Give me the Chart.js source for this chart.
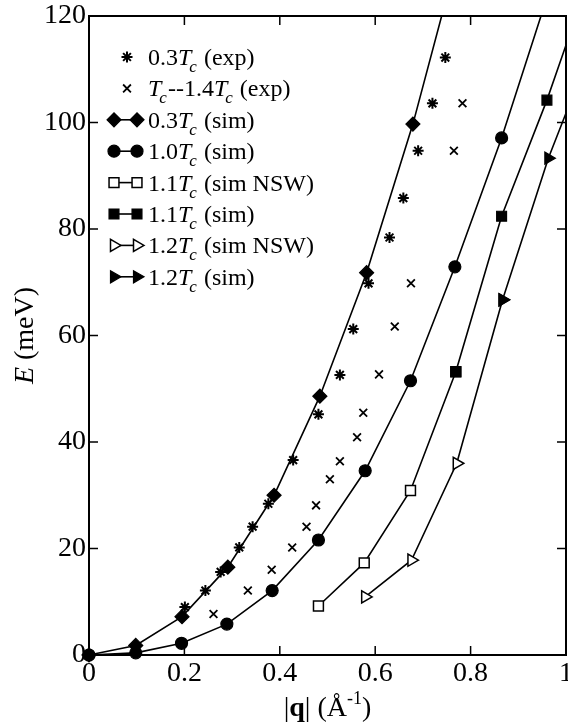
<!DOCTYPE html>
<html>
<head>
<meta charset="utf-8">
<script src="https://cdn.jsdelivr.net/npm/chart.js@4/dist/chart.umd.min.js"></script>
<style>
  html, body { margin: 0; padding: 0; background: #fff; overflow: hidden; }
  /* a little wider than the window, so the last x label runs off the edge as in the original */
  #wrap { width: 575px; height: 726px; position: relative; }
</style>
</head>
<body>
<div id="wrap"><canvas id="chart"></canvas></div>
<script>
// legend labels, "T_c" = italic T with subscript c
const seriesLabels = [
  '0.3T_c (exp)',
  'T_c--1.4T_c (exp)',
  '0.3T_c (sim)',
  '1.0T_c (sim)',
  '1.1T_c (sim NSW)',
  '1.1T_c (sim)',
  '1.2T_c (sim NSW)',
  '1.2T_c (sim)'
];

// 0.3Tc experiment (asterisks)
const expLowQ = [0.201, 0.244, 0.276, 0.315, 0.343, 0.376, 0.428, 0.481, 0.526, 0.554, 0.586, 0.630, 0.659, 0.690, 0.720, 0.747];
const expLowE = [9.0, 12.1, 15.6, 20.2, 24.1, 28.4, 36.6, 45.2, 52.6, 61.2, 69.8, 78.4, 85.8, 94.7, 103.6, 112.2];

// Tc--1.4Tc experiment (crosses)
const expHighQ = [0.261, 0.333, 0.383, 0.426, 0.456, 0.476, 0.505, 0.526, 0.562, 0.575, 0.608, 0.641, 0.675, 0.765, 0.783];
const expHighE = [7.7, 12.1, 16.0, 20.2, 24.1, 28.1, 33.0, 36.4, 40.9, 45.5, 52.7, 61.7, 69.8, 94.7, 103.6];

// simulations
const sim03Q = [0, 0.098, 0.195, 0.291, 0.388, 0.484, 0.582, 0.679, 0.775];
const sim03E = [0, 1.8, 7.2, 16.5, 30.0, 48.6, 71.8, 99.7, 132];

const sim10Q = [0, 0.098, 0.194, 0.289, 0.384, 0.481, 0.579, 0.674, 0.767, 0.865, 0.962];
const sim10E = [0, 0.4, 2.2, 5.8, 12.1, 21.6, 34.6, 51.5, 72.9, 97.1, 124];

const sim11nswQ = [0.481, 0.577, 0.674, 0.769];
const sim11nswE = [9.2, 17.3, 30.9, 53.2];

const sim11Q = [0.769, 0.865, 0.960, 1.056];
const sim11E = [53.2, 82.4, 104.2, 129];

const sim12nswQ = [0.579, 0.676, 0.771, 0.867];
const sim12nswE = [10.9, 17.8, 36.0, 66.7];

const sim12Q = [0.867, 0.963, 1.06];
const sim12E = [66.7, 93.3, 115.5];

const xTicks = [0, 0.2, 0.4, 0.6, 0.8, 1];
const yTicks = [0, 20, 40, 60, 80, 100, 120];

const FONT = "'Liberation Serif', 'Times New Roman', serif";

function pts(qs, es) {
  return qs.map((q, i) => ({ x: q, y: es[i] }));
}

function series(label, qs, es, style) {
  return Object.assign({
    label: label,
    data: pts(qs, es),
    borderColor: '#000',
    backgroundColor: '#000',
    pointBackgroundColor: '#000',
    pointBorderColor: '#000',
    pointBorderWidth: 1.2,
    borderWidth: 1.6,
    showLine: true,
    tension: 0,
    clip: { left: 10, top: 0, right: 0, bottom: 10 }
  }, style);
}

const datasets = [
  series(seriesLabels[0], expLowQ, expLowE, { showLine: false, pointStyle: 'star', pointRadius: 5.5, pointBorderWidth: 2, order: 0 }),
  series(seriesLabels[1], expHighQ, expHighE, { showLine: false, pointStyle: 'crossRot', pointRadius: 5.5, pointBorderWidth: 1.8, order: 0 }),
  series(seriesLabels[2], sim03Q, sim03E, { pointStyle: 'rectRot', pointRadius: 7, order: 1 }),
  series(seriesLabels[3], sim10Q, sim10E, { pointStyle: 'circle', pointRadius: 6, order: 2 }),
  series(seriesLabels[4], sim11nswQ, sim11nswE, { pointStyle: 'rect', pointRadius: 7, pointBackgroundColor: '#fff', pointBorderWidth: 1.5, order: 3 }),
  series(seriesLabels[5], sim11Q, sim11E, { pointStyle: 'rect', pointRadius: 7, order: 1 }),
  series(seriesLabels[6], sim12nswQ, sim12nswE, { pointStyle: 'triangle', pointRotation: 90, pointRadius: 7, pointBackgroundColor: '#fff', pointBorderWidth: 1.5, order: 3 }),
  series(seriesLabels[7], sim12Q, sim12E, { pointStyle: 'triangle', pointRotation: 90, pointRadius: 7, order: 1 })
];

// frame with inward ticks on all four sides
const framePlugin = {
  id: 'frame',
  beforeDatasetsDraw(chart) {
    const { ctx, chartArea: a, scales } = chart;
    ctx.save();
    ctx.strokeStyle = '#000';
    ctx.lineWidth = 2;
    ctx.strokeRect(a.left, a.top, a.right - a.left, a.bottom - a.top);
    ctx.lineWidth = 1.5;
    const len = 9;
    ctx.beginPath();
    xTicks.slice(1, -1).forEach(v => {
      const px = scales.x.getPixelForValue(v);
      ctx.moveTo(px, a.bottom); ctx.lineTo(px, a.bottom - len);
      ctx.moveTo(px, a.top); ctx.lineTo(px, a.top + len);
    });
    yTicks.slice(1, -1).forEach(v => {
      const py = scales.y.getPixelForValue(v);
      ctx.moveTo(a.left, py); ctx.lineTo(a.left + len, py);
      ctx.moveTo(a.right, py); ctx.lineTo(a.right - len, py);
    });
    ctx.stroke();
    ctx.restore();
  }
};

// draws a string where "T_c" becomes italic T with subscript c
function drawRich(ctx, text, x, y, size) {
  const parts = text.split('T_c');
  parts.forEach((p, i) => {
    if (p) {
      ctx.font = size + 'px ' + FONT;
      ctx.fillText(p, x, y);
      x += ctx.measureText(p).width;
    }
    if (i < parts.length - 1) {
      ctx.font = 'italic ' + size + 'px ' + FONT;
      ctx.fillText('T', x, y);
      x += ctx.measureText('T').width - 2;
      const sub = Math.round(size * 0.7);
      ctx.font = 'italic ' + sub + 'px ' + FONT;
      ctx.fillText('c', x, y + 7);
      x += ctx.measureText('c').width + 1;
    }
  });
}

const legendPlugin = {
  id: 'richLegend',
  afterDraw(chart) {
    const ctx = chart.ctx;
    ctx.save();
    ctx.fillStyle = '#000';
    ctx.textBaseline = 'alphabetic';
    chart.data.datasets.forEach((ds, i) => {
      const y = 57 + i * 31.4;
      const opts = {
        pointStyle: ds.pointStyle,
        radius: ds.pointRadius,
        rotation: ds.pointRotation || 0,
        borderWidth: ds.pointBorderWidth
      };
      ctx.strokeStyle = '#000';
      if (ds.showLine) {
        ctx.lineWidth = ds.borderWidth;
        ctx.beginPath();
        ctx.moveTo(114, y); ctx.lineTo(137, y);
        ctx.stroke();
        [114, 137].forEach(px => {
          ctx.fillStyle = ds.pointBackgroundColor;
          ctx.lineWidth = ds.pointBorderWidth;
          Chart.helpers.drawPoint(ctx, opts, px, y);
        });
      } else {
        ctx.fillStyle = '#000';
        ctx.lineWidth = ds.pointBorderWidth;
        Chart.helpers.drawPoint(ctx, opts, 127, y);
      }
      ctx.fillStyle = '#000';
      drawRich(ctx, ds.label, 148, y + 8, 24);
    });

    // x axis title: |q| (Å^-1)
    const segs = [
      ['|', '28px ' + FONT, 0],
      ['q', 'bold 28px ' + FONT, 0],
      ['| (Å', '28px ' + FONT, 0],
      ['-1', '18px ' + FONT, -12],
      [')', '28px ' + FONT, 0]
    ];
    let w = 0;
    segs.forEach(s => { ctx.font = s[1]; w += ctx.measureText(s[0]).width; });
    const a = chart.chartArea;
    let x = (a.left + a.right) / 2 - w / 2;
    segs.forEach(s => {
      ctx.font = s[1];
      ctx.fillText(s[0], x, 716 + s[2]);
      x += ctx.measureText(s[0]).width;
    });

    // y axis title: E (meV)
    ctx.translate(26, (a.top + a.bottom) / 2);
    ctx.rotate(-Math.PI / 2);
    ctx.textBaseline = 'middle';
    ctx.font = 'italic 28px ' + FONT;
    const wE = ctx.measureText('E').width;
    ctx.font = '28px ' + FONT;
    const wR = ctx.measureText(' (meV)').width;
    let tx = -(wE + wR) / 2;
    ctx.font = 'italic 28px ' + FONT;
    ctx.fillText('E', tx, 0);
    ctx.font = '28px ' + FONT;
    ctx.fillText(' (meV)', tx + wE, 0);
    ctx.restore();
  }
};

Chart.defaults.font.family = FONT;
Chart.defaults.color = '#000';

new Chart(document.getElementById('chart'), {
  type: 'scatter',
  data: { datasets: datasets },
  options: {
    responsive: true,
    maintainAspectRatio: false,
    animation: false,
    layout: { padding: { top: 16, right: 3, bottom: 0, left: 0 } },
    plugins: {
      legend: { display: false },
      tooltip: { enabled: false }
    },
    scales: {
      x: {
        type: 'linear',
        min: 0,
        max: 1,
        grid: { display: false, drawTicks: false },
        border: { display: false },
        afterBuildTicks: s => { s.ticks = xTicks.map(v => ({ value: v })); },
        ticks: {
          font: { size: 28 },
          padding: 2,
          maxRotation: 0,
          callback: v => String(+v.toFixed(1))
        },
        afterFit: s => { s.height = 71; }
      },
      y: {
        type: 'linear',
        min: 0,
        max: 120,
        grid: { display: false, drawTicks: false },
        border: { display: false },
        afterBuildTicks: s => { s.ticks = yTicks.map(v => ({ value: v })); },
        ticks: {
          font: { size: 28 },
          padding: 3
        },
        afterFit: s => { s.width = 89; s.paddingTop = 0; s.paddingBottom = 0; }
      }
    }
  },
  plugins: [framePlugin, legendPlugin]
});
</script>
</body>
</html>
